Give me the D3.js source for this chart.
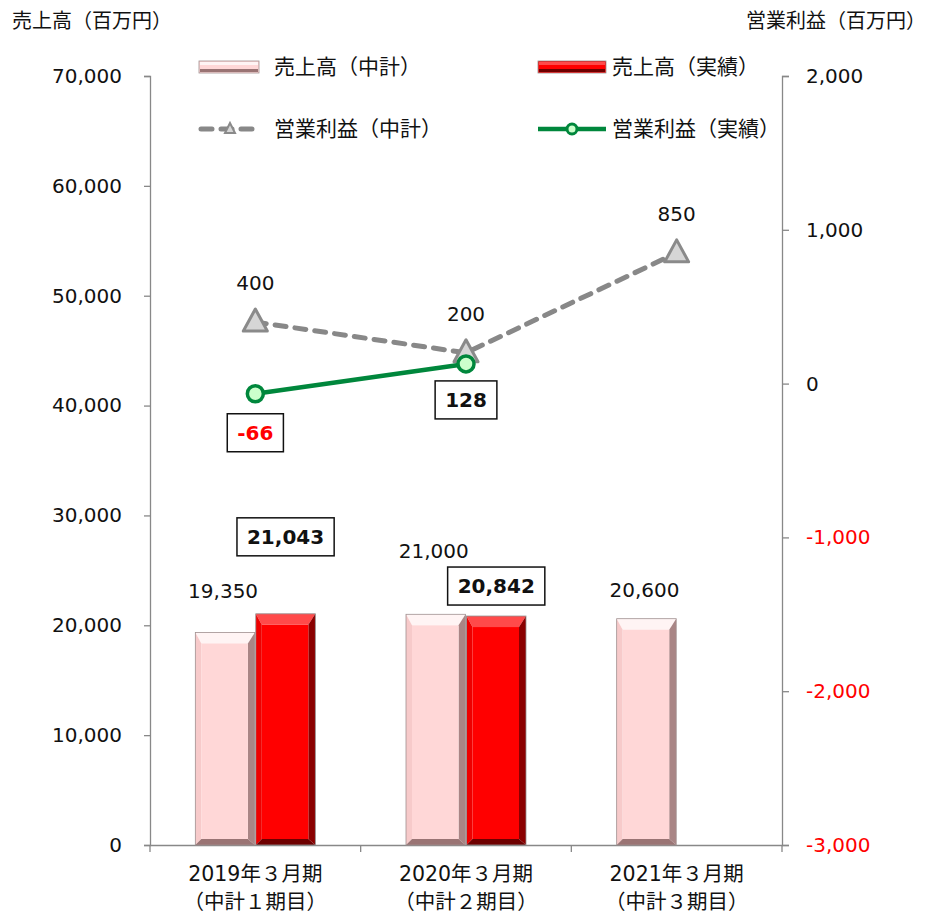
<!DOCTYPE html>
<html><head><meta charset="utf-8">
<script src="https://cdn.jsdelivr.net/npm/d3@7"></script>
<style>
body{margin:0;background:#fff;}
text{font-family:"DejaVu Sans","Noto Sans CJK JP",sans-serif;}
</style></head>
<body><svg id="c" width="930" height="916"></svg>
<script>
const catLine1 = ["2019年３月期", "2020年３月期", "2021年３月期"];
const catLine2 = ["（中計１期目）", "（中計２期目）", "（中計３期目）"];
const salesPlan = [19350, 21000, 20600];
const salesActual = [21043, 20842, null];
const profitPlan = [400, 200, 850];
const profitActual = [-66, 128, null];
const leftTicks = [0, 10000, 20000, 30000, 40000, 50000, 60000, 70000];
const rightTicks = [-3000, -2000, -1000, 0, 1000, 2000];
const legendLabels = ["売上高（中計）", "売上高（実績）", "営業利益（中計）", "営業利益（実績）"];

// label placement (layout only)
const planLabelDy = [-34, -56, -22];
const actualBoxDy = [-77, -30];

const svg = d3.select("#c");
const L = 150, R = 782, T = 76, B = 845;
const x = d3.scaleBand().domain(d3.range(3)).range([L, R]);
const yL = d3.scaleLinear().domain([0, 70000]).range([B, T]);
const yR = d3.scaleLinear().domain([-3000, 2000]).range([B, T]);
const sub = d3.scaleBand().domain(["plan", "actual"]).range([-60, 60]).paddingInner(0.015);
const loc = d3.formatLocale({decimal: ".", thousands: ",", grouping: [3], currency: ["", ""], minus: "-"});
const fmt = loc.format(",");
const cx = i => x(i) + x.bandwidth() / 2;

// axes
const axL = svg.append("g").attr("transform", `translate(${L},0)`)
  .call(d3.axisLeft(yL).tickValues(leftTicks).tickSize(6).tickPadding(22).tickFormat(fmt));
const axR = svg.append("g").attr("transform", `translate(${R},0)`)
  .call(d3.axisRight(yR).tickValues(rightTicks).tickSize(7).tickPadding(17).tickFormat(fmt));
const axB = svg.append("g").attr("transform", `translate(0,${B})`)
  .call(d3.axisBottom(x).tickValues([]).tickSizeOuter(0));
[axL, axR, axB].forEach(a => {
  a.selectAll("path,line").attr("stroke", "#888").attr("stroke-width", 1.3);
  a.selectAll("text").attr("font-size", 20).attr("fill", "#111");
});
axR.selectAll(".tick text").attr("fill", d => d < 0 ? "#ff0000" : "#111");
// category boundary ticks
const bounds = [L, x(1), x(2), R];
svg.append("g").selectAll("line").data(bounds).join("line")
  .attr("x1", d => d).attr("x2", d => d).attr("y1", B).attr("y2", B + 7)
  .attr("stroke", "#888").attr("stroke-width", 1.3);
// category labels
const cl = svg.append("g").attr("font-size", 20.5).attr("fill", "#111").attr("text-anchor", "middle");
cl.selectAll(".l1").data(catLine1).join("text").attr("x", (d, i) => cx(i)).attr("y", 881).text(d => d);
cl.selectAll(".l2").data(catLine2).join("text").attr("x", (d, i) => cx(i)).attr("y", 909).text(d => d);

// axis titles
svg.append("text").attr("x", 12).attr("y", 28).attr("font-size", 20).attr("fill", "#111").text("売上高（百万円）");
svg.append("text").attr("x", 926).attr("y", 28).attr("text-anchor", "end").attr("font-size", 20).attr("fill", "#111").text("営業利益（百万円）");

// bevel bar
const palettes = {
  plan: {face: "#ffd7d7", top: "#fff4f4", left: "#f7caca", right: "#a98585", bottom: "#9a7474", edge: "#a09090"},
  actual: {face: "#ff0000", top: "#ff4a4a", left: "#ee0000", right: "#8a0000", bottom: "#6e0000", edge: "#909090"}
};
function bevelBar(g, x0, y0, w, h, p) {
  const bt = Math.min(11, h / 3), bs = 6, br = 7, bb = 6;
  const x1 = x0 + w, y1 = y0 + h;
  const poly = (pts, fill) => g.append("polygon").attr("points", pts.map(q => q.join(",")).join(" ")).attr("fill", fill);
  poly([[x0, y0], [x1, y0], [x1 - br, y0 + bt], [x0 + bs, y0 + bt]], p.top);
  poly([[x0, y0], [x0 + bs, y0 + bt], [x0 + bs, y1 - bb], [x0, y1]], p.left);
  poly([[x1, y0], [x1, y1], [x1 - br, y1 - bb], [x1 - br, y0 + bt]], p.right);
  poly([[x0, y1], [x0 + bs, y1 - bb], [x1 - br, y1 - bb], [x1, y1]], p.bottom);
  g.append("rect").attr("x", x0 + bs).attr("y", y0 + bt).attr("width", w - bs - br).attr("height", h - bt - bb).attr("fill", p.face);
  g.append("rect").attr("x", x0).attr("y", y0).attr("width", w).attr("height", h).attr("fill", "none").attr("stroke", p.edge).attr("stroke-width", 0.8);
}
const bars = svg.append("g");
salesPlan.forEach((v, i) => {
  if (v == null) return;
  bevelBar(bars.append("g"), cx(i) + sub("plan"), yL(v), sub.bandwidth(), B - yL(v), palettes.plan);
});
salesActual.forEach((v, i) => {
  if (v == null) return;
  bevelBar(bars.append("g"), cx(i) + sub("actual"), yL(v), sub.bandwidth(), B - yL(v), palettes.actual);
});

// bar labels
const lab = svg.append("g").attr("font-size", 20).attr("fill", "#111").attr("text-anchor", "middle");
salesPlan.forEach((v, i) => {
  lab.append("text").attr("x", cx(i) + sub("plan") + sub.bandwidth() / 2 - 2).attr("y", yL(v) + planLabelDy[i]).text(fmt(v));
});
function boxLabel(xc, yc, txt, color) {
  const g = svg.append("g");
  const t = g.append("text").attr("x", xc).attr("y", yc + 7).attr("text-anchor", "middle")
    .attr("font-size", 20).attr("font-weight", "bold").attr("fill", color).text(txt);
  const bb = t.node().getBBox();
  const padX = 10;
  g.insert("rect", "text").attr("x", bb.x - padX).attr("y", yc - 19).attr("width", bb.width + 2 * padX).attr("height", 38)
    .attr("fill", "#fff").attr("stroke", "#111").attr("stroke-width", 1.5);
}
salesActual.forEach((v, i) => {
  if (v == null) return;
  boxLabel(cx(i) + sub("actual") + sub.bandwidth() / 2, yL(v) + actualBoxDy[i], fmt(v), "#111");
});

// profit plan line
const linePlan = d3.line().x((d, i) => cx(i)).y(d => yR(d));
svg.append("path").datum(profitPlan).attr("d", linePlan).attr("fill", "none")
  .attr("stroke", "#888").attr("stroke-width", 5).attr("stroke-dasharray", "11,9").attr("stroke-linecap", "round");
function tri(g, xc, yc, s) {
  g.append("polygon").attr("points", [[xc, yc - 13 * s], [xc - 12 * s, yc + 9 * s], [xc + 12 * s, yc + 9 * s]].map(q => q.join(",")).join(" "))
    .attr("fill", "#d6d6d6").attr("stroke", "#8a8a8a").attr("stroke-width", 3).attr("stroke-linejoin", "round");
}
profitPlan.forEach((v, i) => tri(svg, cx(i), yR(v), 1));
profitPlan.forEach((v, i) => {
  svg.append("text").attr("x", cx(i)).attr("y", yR(v) - 32).attr("text-anchor", "middle").attr("font-size", 20).attr("fill", "#111").text(fmt(v));
});

// profit actual line
const act = profitActual.map((v, i) => ({v, i})).filter(d => d.v != null);
svg.append("path").datum(act).attr("d", d3.line().x(d => cx(d.i)).y(d => yR(d.v))).attr("fill", "none")
  .attr("stroke", "#00873c").attr("stroke-width", 4.5);
svg.append("g").selectAll("circle").data(act).join("circle")
  .attr("cx", d => cx(d.i)).attr("cy", d => yR(d.v)).attr("r", 8)
  .attr("fill", "#ccffcc").attr("stroke", "#00873c").attr("stroke-width", 3.5);
act.forEach(d => {
  const yc = yR(d.v) + (d.v < 0 ? 39 : 36);
  boxLabel(cx(d.i), yc, fmt(d.v), d.v < 0 ? "#ff0000" : "#111");
});

// legend
const lg = svg.append("g");
const legX = [199, 538], legY = [67, 129], textX = [274, 612];
function bevelLegend(g, x0, y0, w, h, p) {
  g.append("rect").attr("x", x0).attr("y", y0).attr("width", w).attr("height", h).attr("fill", p.face).attr("stroke", p.edge).attr("stroke-width", 0.8);
  g.append("rect").attr("x", x0 + 1).attr("y", y0 + 1).attr("width", w - 2).attr("height", 3).attr("fill", p.top);
  g.append("rect").attr("x", x0 + 1).attr("y", y0 + h - 4).attr("width", w - 2).attr("height", 3).attr("fill", p.bottom);
}
bevelLegend(lg, legX[0], legY[0] - 6, 60, 12, palettes.plan);
bevelLegend(lg, legX[1], legY[0] - 6, 68, 12, palettes.actual);
lg.append("line").attr("x1", 201).attr("x2", 259).attr("y1", legY[1]).attr("y2", legY[1])
  .attr("stroke", "#888").attr("stroke-width", 5).attr("stroke-dasharray", "11,9").attr("stroke-linecap", "round");
lg.append("polygon").attr("points", [[230, legY[1] - 6], [225, legY[1] + 4], [235, legY[1] + 4]].map(q => q.join(",")).join(" "))
  .attr("fill", "#d6d6d6").attr("stroke", "#8a8a8a").attr("stroke-width", 2);
lg.append("line").attr("x1", 538).attr("x2", 606).attr("y1", legY[1]).attr("y2", legY[1]).attr("stroke", "#00873c").attr("stroke-width", 4.5);
lg.append("circle").attr("cx", 572).attr("cy", legY[1]).attr("r", 5).attr("fill", "#ccffcc").attr("stroke", "#00873c").attr("stroke-width", 3);
legendLabels.forEach((t, k) => {
  lg.append("text").attr("x", textX[k % 2]).attr("y", legY[Math.floor(k / 2)] + 7).attr("font-size", 21).attr("fill", "#111").text(t);
});
</script></body></html>
